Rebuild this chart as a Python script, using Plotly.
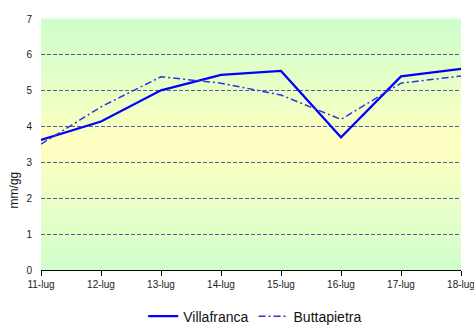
import plotly.graph_objects as go

# Daily reference evapotranspiration (mm/gg) for two stations, 11-18 July
days = ["11-lug", "12-lug", "13-lug", "14-lug", "15-lug", "16-lug", "17-lug", "18-lug"]
villafranca = [3.63, 4.14, 5.01, 5.44, 5.55, 3.70, 5.40, 5.61]
buttapietra = [3.51, 4.55, 5.39, 5.21, 4.88, 4.20, 5.21, 5.41]
y_ticks = [0, 1, 2, 3, 4, 5, 6, 7]

FONT = "Liberation Sans, Arial, sans-serif"
x_pos = list(range(len(days)))

fig = go.Figure()

# Vertical green -> yellow -> green background, built from thin bands
def mix(c1, c2, t):
    return "rgb(%d,%d,%d)" % tuple(round(a + (b - a) * t) for a, b in zip(c1, c2))

green_top = (204, 255, 204)
yellow = (255, 255, 192)
green_bottom = (208, 255, 204)
n_bands = 120
shapes = []
for i in range(n_bands):
    f0 = i / n_bands
    f1 = (i + 1) / n_bands
    fm = (f0 + f1) / 2
    if fm < 0.5:
        col = mix(green_bottom, yellow, fm / 0.5)
    else:
        col = mix(yellow, green_top, (fm - 0.5) / 0.5)
    shapes.append(dict(type="rect", xref="x domain", yref="y domain",
                       x0=0, x1=1, y0=f0, y1=f1 + 0.002,
                       fillcolor=col, line=dict(width=0), layer="below"))

fig.add_trace(go.Scatter(
    x=x_pos, y=villafranca, name="Villafranca", mode="lines",
    line=dict(color="#0000ff", width=2.2),
))
fig.add_trace(go.Scatter(
    x=x_pos, y=buttapietra, name="Buttapietra", mode="lines",
    line=dict(color="#3333dd", width=1.5, dash="7px,3px,2px,3px"),
))

fig.update_layout(
    width=474, height=327,
    margin=dict(l=41, r=13, t=19, b=57, autoexpand=False),
    paper_bgcolor="white",
    plot_bgcolor="rgba(0,0,0,0)",
    shapes=shapes,
    font=dict(family=FONT, size=10, color="#222"),
    showlegend=True,
    legend=dict(orientation="h", x=0.51, xanchor="center",
                y=-0.122, yanchor="top",
                font=dict(family=FONT, size=14, color="#111"),
                bgcolor="rgba(0,0,0,0)", itemwidth=30, tracegroupgap=0),
    annotations=[dict(text="mm/gg", textangle=-90, xref="paper", yref="paper",
                      x=-0.065, y=0.32, xanchor="center", yanchor="middle",
                      showarrow=False, font=dict(family=FONT, size=12, color="#111"))],
)

fig.update_xaxes(
    range=[0, len(days) - 1], tickmode="array", tickvals=x_pos, ticktext=days,
    showgrid=False, zeroline=False, showline=True, linecolor="black", linewidth=1.2,
    ticks="outside", ticklen=5, tickcolor="black", tickwidth=1,
    ticklabeloverflow="allow",
    tickfont=dict(family=FONT, size=10, color="#222"),
)
fig.update_yaxes(
    range=[0, 7], tickmode="array", tickvals=y_ticks,
    showgrid=True, gridcolor="#5a5a9a", gridwidth=1, griddash="4px,2px",
    zeroline=False, showline=False, ticks="", ticklabelstandoff=8,
    tickfont=dict(family=FONT, size=10, color="#222"),
)

fig.write_html("out.html")
